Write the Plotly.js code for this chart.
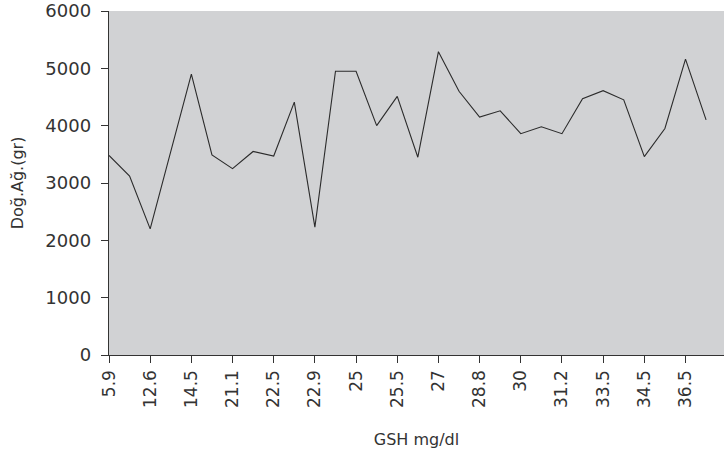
<!DOCTYPE html>
<html>
<head>
<meta charset="utf-8">
<script src="https://cdn.plot.ly/plotly-3.0.1.min.js"></script>
<style>html,body{margin:0;padding:0;background:#fff;}#chart{width:724px;height:459px;}</style>
</head>
<body>
<div id="chart"></div>
<script>
// Tick labels shown on the x axis (every second GSH category)
const tickLabels = ["5.9","12.6","14.5","21.1","22.5","22.9","25","25.5","27","28.8","30","31.2","33.5","34.5","36.5"];
// Doğ.Ağ.(gr) values, one per GSH category, in axis order
const birthWeight = [3480, 3120, 2200, 3550, 4900, 3490, 3250, 3550, 3470, 4410,
                     2230, 4950, 4950, 4000, 4510, 3450, 5290, 4600, 4150, 4260,
                     3860, 3980, 3860, 4470, 4610, 4450, 3460, 3950, 5160, 4100];

const xIdx = birthWeight.map((_, i) => i);
const tickVals = tickLabels.map((_, i) => i * 2);

const FONT = "DejaVu Sans, sans-serif";
const trace = {
  x: xIdx, y: birthWeight, type: "scatter", mode: "lines",
  line: {color: "#2b2b2b", width: 1.1}, hoverinfo: "skip"
};
const layout = {
  width: 724, height: 459,
  margin: {l: 109, r: 0, t: 11, b: 104},
  paper_bgcolor: "#ffffff", plot_bgcolor: "#d1d2d4",
  showlegend: false,
  font: {family: FONT, color: "#333333", size: 17},
  xaxis: {
    range: [0, 29.87], tickmode: "array", tickvals: tickVals, ticktext: tickLabels,
    tickangle: -90, ticks: "outside", ticklen: 7, tickcolor: "#333333", tickwidth: 1,
    showline: true, linecolor: "#333333", linewidth: 1.3, showgrid: false, zeroline: false,
    tickfont: {family: FONT, size: 17, color: "#333333"},
    ticklabeloverflow: "allow",
    automargin: false,
    title: {text: "GSH mg/dl", font: {family: FONT, size: 16, color: "#333333"}, standoff: 26}
  },
  yaxis: {
    range: [0, 6000], dtick: 1000, ticks: "outside", ticklen: 7, tickcolor: "#333333", tickwidth: 1,
    showline: true, linecolor: "#333333", linewidth: 1.3, showgrid: false, zeroline: false,
    tickfont: {family: FONT, size: 18, color: "#333333"},
    ticklabelstandoff: 6,
    ticklabeloverflow: "allow",
    automargin: false,
    title: {text: "Doğ.Ağ.(gr)", font: {family: FONT, size: 16, color: "#333333"}, standoff: 17}
  }
};
Plotly.newPlot("chart", [trace], layout, {displayModeBar: false, staticPlot: true});
</script>
</body>
</html>
